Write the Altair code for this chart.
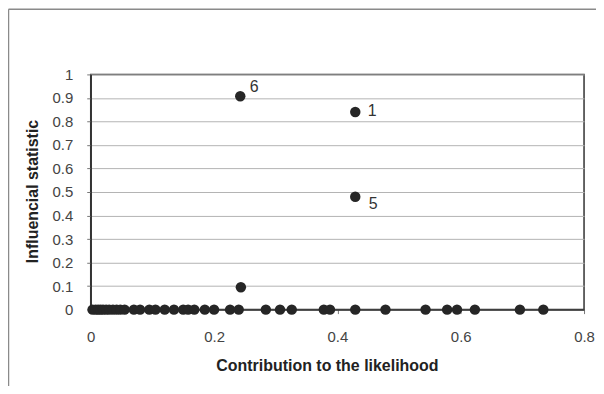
import altair as alt
import pandas as pd

# Points lying on the x-axis (influential statistic ~ 0)
base_x = [0.003, 0.008, 0.012, 0.016, 0.02, 0.025, 0.03, 0.036, 0.042, 0.048,
          0.055, 0.07, 0.08, 0.095, 0.105, 0.12, 0.135, 0.15, 0.158, 0.168,
          0.185, 0.2, 0.226, 0.24, 0.284, 0.307, 0.326, 0.378, 0.388, 0.429,
          0.478, 0.543, 0.578, 0.594, 0.623, 0.696, 0.734]
base_y = [0.0] * len(base_x)

# Raised points
high_x = [0.2435, 0.2425, 0.429, 0.429]
high_y = [0.095, 0.907, 0.84, 0.48]
high_lab = ["", "6", "1", "5"]

x_ticks = [0, 0.2, 0.4, 0.6, 0.8]
y_ticks = [0, 0.1, 0.2, 0.3, 0.4, 0.5, 0.6, 0.7, 0.8, 0.9, 1]

df = pd.DataFrame({
    "x": base_x + high_x,
    "y": base_y + high_y,
    "lab": [""] * len(base_x) + high_lab,
})

xs = alt.Scale(domain=[0, 0.8], nice=False, zero=True)
ys = alt.Scale(domain=[0, 1], nice=False, zero=True)

xaxis = alt.Axis(
    values=x_ticks, format="~g", grid=False, title="Contribution to the likelihood",
    titleX=237, titleY=56, titleBaseline="middle", labelPadding=16, labelOverlap=False,
    labelFlush=False)
yaxis = alt.Axis(
    values=y_ticks, format="~g", grid=True, title="Influencial statistic",
    titleX=-58, titleY=117, titleBaseline="middle", titleAngle=270, labelPadding=14,
    labelOverlap=False, labelFlush=False)

xenc = alt.X("x:Q", scale=xs, axis=xaxis)
yenc = alt.Y("y:Q", scale=ys, axis=yaxis)

points = alt.Chart(df).mark_circle(size=110, color="#262626", opacity=1).encode(
    x=xenc, y=yenc)

def label(txt, dx, dy):
    return alt.Chart(df).transform_filter(alt.datum.lab == txt).mark_text(
        align="center", baseline="middle", dx=dx, dy=dy, fontSize=16,
        font="Liberation Sans", color="#333333").encode(
        x=xenc, y=yenc, text="lab:N")

blank = alt.Data(values=[{"k": 1}])
frame_left = alt.Chart(blank).mark_rule(color="#8a8a8a", strokeWidth=1.5).encode(
    x=alt.value(-82.5), y=alt.value(-65.5), y2=alt.value(400))
frame_top = alt.Chart(blank).mark_rule(color="#8a8a8a", strokeWidth=1.5).encode(
    x=alt.value(-82.5), x2=alt.value(600), y=alt.value(-65.5))

chart = alt.layer(points, label("6", 14, -9), label("1", 17, -1), label("5", 18, 7),
                  frame_left, frame_top).properties(
    width=495, height=236,
    autosize=alt.AutoSizeParams(type="none"),
    padding={"left": 83, "top": 66, "right": 12, "bottom": 76},
).configure_view(
    stroke="#333333", strokeWidth=1.5
).configure_axis(
    labelFont="Liberation Sans", labelFontSize=15, labelColor="#444444",
    titleFont="Liberation Sans", titleFontSize=16, titleFontWeight="bold", titleColor="#222222",
    domainColor="#333333", domainWidth=1.5, tickColor="#777777", tickSize=4,
    gridColor="#b4b4b4", gridWidth=1
)

chart.save("out.html", embed_options={"renderer": "svg", "actions": False})
